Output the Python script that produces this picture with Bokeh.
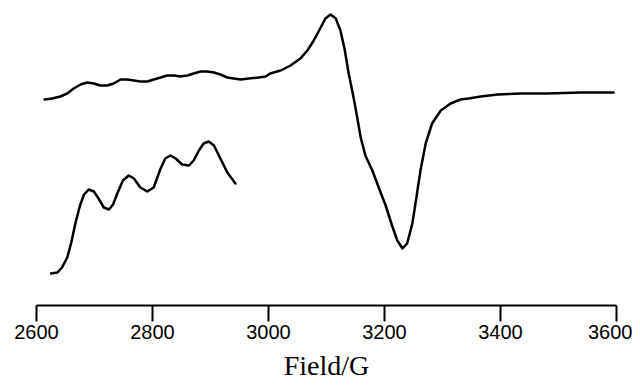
from bokeh.plotting import figure
from bokeh.models import Range1d, FixedTicker
from bokeh.embed import file_html
from bokeh.resources import INLINE

# EPR spectrum (upper trace): field in G, intensity in arbitrary units
field_main = [2614, 2627, 2641, 2653, 2664, 2676, 2687, 2699, 2710, 2722, 2733, 2745,
              2756, 2768, 2779, 2791, 2802, 2814, 2825, 2837, 2848, 2860, 2871, 2883,
              2894, 2906, 2917, 2929, 2940, 2952, 2966, 2983, 2995, 3003, 3021, 3038,
              3055, 3067, 3078, 3090, 3098, 3107, 3116, 3124, 3131, 3138, 3147, 3153,
              3159, 3167, 3179, 3190, 3202, 3213, 3222, 3231, 3239, 3248, 3255, 3262,
              3271, 3282, 3297, 3314, 3331, 3345, 3366, 3395, 3434, 3481, 3538, 3595]
signal_main = [206, 207, 209, 212, 217, 221, 223, 222, 220, 220, 222, 226,
               226, 225, 224, 224, 226, 228, 230, 230, 229, 230, 232, 234,
               234, 233, 231, 228, 227, 226, 227, 228, 229, 232, 235, 240,
               247, 255, 265, 278, 287, 291, 287, 275, 257, 233, 207, 188,
               168, 150, 135, 118, 100, 80, 65, 57, 62, 82, 108, 135,
               162, 182, 195, 202, 206, 207, 209, 211, 212, 212, 213, 213]

# Expanded low-field hyperfine region (lower trace)
field_zoom = [2625, 2636, 2644, 2653, 2660, 2667, 2675, 2682, 2690, 2699, 2707, 2716,
              2725, 2732, 2740, 2749, 2759, 2768, 2779, 2791, 2802, 2814, 2822, 2831,
              2840, 2851, 2863, 2871, 2880, 2888, 2897, 2906, 2917, 2929, 2943]
signal_zoom = [32, 33, 38, 48, 63, 82, 100, 111, 116, 114, 107, 98,
               96, 101, 113, 125, 130, 127, 118, 114, 118, 137, 147, 150,
               147, 141, 140, 145, 155, 162, 164, 160, 147, 133, 122]

x_ticks = [2600, 2800, 3000, 3200, 3400, 3600]

p = figure(frame_width=580, frame_height=297, output_backend="svg", toolbar_location=None,
           x_range=Range1d(2600, 3600), y_range=Range1d(0, 297),
           min_border_left=36, min_border_right=16, min_border_top=8, min_border_bottom=0)

p.line(field_main, signal_main, line_color="black", line_width=2.5,
       line_join="round", line_cap="round")
p.line(field_zoom, signal_zoom, line_color="black", line_width=2.5,
       line_join="round", line_cap="round")

p.yaxis.visible = False
p.grid.visible = False
p.outline_line_color = None

ax = p.xaxis[0]
ax.ticker = FixedTicker(ticks=x_ticks)
ax.minor_tick_line_color = None
ax.major_tick_out = 16
ax.major_tick_in = 0
ax.major_tick_line_width = 2
ax.axis_line_width = 2
ax.axis_line_color = "black"
ax.major_tick_line_color = "black"
ax.major_label_text_font = "Liberation Sans"
ax.major_label_text_font_size = "20px"
ax.major_label_text_color = "black"
ax.major_label_standoff = 3
ax.axis_label = "Field/G"
ax.axis_label_text_font = "Liberation Serif"
ax.axis_label_text_font_style = "normal"
ax.axis_label_text_font_size = "28px"
ax.axis_label_text_color = "black"
ax.axis_label_standoff = 8

open("out.html", "w").write(file_html(p, INLINE))
